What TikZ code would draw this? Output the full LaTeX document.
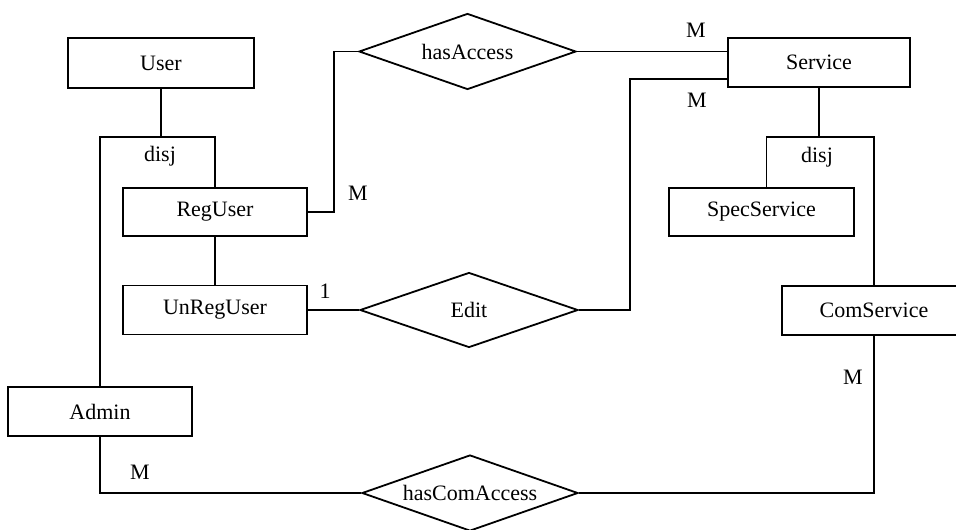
\documentclass[tikz,border=0pt]{standalone}
\usepackage{fontspec}
\setmainfont{Liberation Serif}
\usetikzlibrary{shapes.geometric,calc}
\begin{document}
\begin{tikzpicture}[x=1pt,y=-1pt,
  line width=1.8pt,
  every node/.style={font=\fontsize{22}{26}\selectfont},
  entity/.style={draw,rectangle,inner sep=0pt,minimum width=184pt,minimum height=49pt},
  rel/.style={draw,diamond,aspect=2.86,inner sep=0pt,minimum width=217pt,minimum height=76pt},
  lbl/.style={inner sep=0pt}]
\useasboundingbox (0,0) rectangle (956,530);
\clip (0,0) rectangle (956,530);
\fill[white] (0,0) rectangle (956,530);
% entities
\node[entity,minimum width=186pt,minimum height=50pt] (User) at (161,63) {User};
\node[entity,minimum height=48pt] (RegUser) at (215,212) {RegUser};
\node[entity] (UnRegUser) at (215,310) {UnRegUser};
\node[entity] (Admin) at (100,411.5) {Admin};
\node[entity,minimum width=182pt] (Service) at (819,62.5) {Service};
\node[entity,minimum width=185pt,minimum height=48pt] (SpecService) at (761.5,212) {SpecService};
\node[entity] (ComService) at (874,310.5) {ComService};
% relationships
\node[rel] (hasAccess) at (467.5,51.5) {hasAccess};
\node[rel,minimum width=218pt,minimum height=75pt] (Edit) at (469,310) {Edit};
\node[rel,minimum width=216pt] (hasComAccess) at (470,493) {hasComAccess};
% junctions
\coordinate (ujunc) at (161,137);
\coordinate (sjunc) at (819,137);
\coordinate (ecorner) at (630,79);
% generalisation User
\draw (User.south) -- (ujunc);
\draw (Admin.north) |- (ujunc) -| (RegUser.north);
\draw (RegUser.south) -- (UnRegUser.north);
\node[lbl] (d1) at (160,156) {disj};
% generalisation Service
\draw (Service.south) -- (sjunc);
\draw ([xshift=5pt]SpecService.north) |- (sjunc) -| (ComService.north);
\node[lbl] (d2) at (817,157) {disj};
% relations
\draw (RegUser.east) -- ++(26,0) |- (hasAccess.west);
\draw (hasAccess.east) -- (hasAccess.east -| Service.west);
\draw (UnRegUser.east) -- (Edit.west);
\draw (Edit.east) -| (ecorner) -- (ecorner -| Service.west);
\draw (ComService.south) |- (hasComAccess.east);
\draw (Admin.south) |- (hasComAccess.west);
% cardinalities
\node[lbl] (m1) at (696,30) {M};
\node[lbl] (m2) at (697,100) {M};
\node[lbl] (m3) at (358,193) {M};
\node[lbl] (c1) at (325,291) {1};
\node[lbl] (m4) at (853,377) {M};
\node[lbl] (m5) at (140,472) {M};
\end{tikzpicture}
\end{document}
